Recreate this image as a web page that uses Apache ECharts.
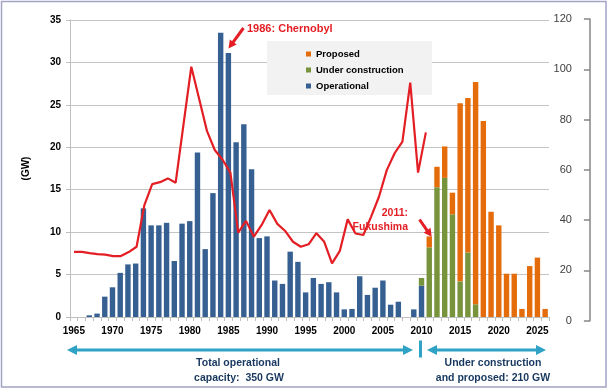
<!DOCTYPE html>
<html>
<head>
<meta charset="utf-8">
<script src="https://cdn.jsdelivr.net/npm/echarts@6/dist/echarts.min.js"></script>
<style>html,body{margin:0;padding:0;background:#fff;}#c{width:610px;height:390px;}</style>
</head>
<body>
<div id="c"></div>
<script>
const years = ['1965','1966','1967','1968','1969','1970','1971','1972','1973','1974',
  '1975','1976','1977','1978','1979','1980','1981','1982','1983','1984',
  '1985','1986','1987','1988','1989','1990','1991','1992','1993','1994',
  '1995','1996','1997','1998','1999','2000','2001','2002','2003','2004',
  '2005','2006','2007','2008','2009','2010','2011','2012','2013','2014',
  '2015','2016','2017','2018','2019','2020','2021','2022','2023','2024',
  '2025','2026'];

// GW per year (left axis)
const operational = [0,0,0.2,0.4,2.4,3.5,5.2,6.2,6.3,12.8,
  10.8,10.8,11.1,6.6,11.0,11.3,19.4,8.0,14.6,33.5,
  31.1,20.6,22.7,17.4,9.3,9.5,4.3,3.9,7.7,6.5,
  2.9,4.6,3.9,4.1,2.9,0.9,0.95,4.8,2.6,3.45,
  4.3,1.45,1.8,0,0.9,3.7,0,0,0,0,
  0,0,0,0,0,0,0,0,0,0,
  0,0];
const underConstruction = [0,0,0,0,0,0,0,0,0,0,
  0,0,0,0,0,0,0,0,0,0,
  0,0,0,0,0,0,0,0,0,0,
  0,0,0,0,0,0,0,0,0,0,
  0,0,0,0,0,0.9,8.2,15.3,16.4,12.1,
  4.2,7.6,1.5,0,0,0,0,0,0,0,
  0,0];
const proposed = [0,0,0,0,0,0,0,0,0,0,
  0,0,0,0,0,0,0,0,0,0,
  0,0,0,0,0,0,0,0,0,0,
  0,0,0,0,0,0,0,0,0,0,
  0,0,0,0,0,0,1.3,2.4,3.7,2.55,
  21.0,18.2,26.2,23.1,12.4,10.8,5.1,5.1,0.95,6.0,
  7.0,0.95];
// red line (right axis)
const rightAxisLine = [27.4,27.4,26.9,26.5,26.3,25.7,25.7,27.3,29.4,46.0,
  54.3,55.1,56.6,54.9,78.0,101.0,88.3,75.5,67.9,64.0,
  58.9,35.0,39.7,33.4,38.1,44.0,38.5,35.7,31.4,29.4,
  30.4,34.8,31.4,22.8,27.8,40.3,34.7,34.1,41.4,49.3,
  59.9,66.6,71.2,94.7,58.9,74.9,null,null,null,null,
  null,null,null,null,null,null,null,null,null,null,
  null,null];

const FONT = '"Liberation Sans", Arial, sans-serif';
const RED = '#E31E24';
const TEAL = '#2FA3C6';
const NAVY = '#17375E';

function arrowHead(tx, ty, dx, dy, len, half) {
  const l = Math.hypot(dx, dy); const ux = dx / l, uy = dy / l;
  const bx = tx - ux * len, by = ty - uy * len;
  return [[tx, ty], [bx + uy * half, by - ux * half], [bx - uy * half, by + ux * half]];
}

const chart = echarts.init(document.getElementById('c'), null, {renderer: 'canvas'});
chart.setOption({
  animation: false,
  backgroundColor: '#fff',
  textStyle: {fontFamily: FONT},
  grid: [
    {left: 70, right: 61, top: 20, bottom: 73},
    {left: 70.1, right: 55.1, top: 19, bottom: 69.3}
  ],
  legend: {
    orient: 'vertical', left: 301, top: 44, padding: 5, itemGap: 6,
    itemWidth: 5, itemHeight: 5, icon: 'rect',
    data: ['Proposed', 'Under construction', 'Operational'],
    textStyle: {fontFamily: FONT, fontWeight: 'bold', fontSize: 9.5, color: '#000'}
  },
  xAxis: [
    {type: 'category', gridIndex: 0, data: years, boundaryGap: true,
     axisLine: {lineStyle: {color: '#BFBFBF', width: 1}},
     axisTick: {show: true, interval: 0, length: 4, lineStyle: {color: '#BFBFBF'}},
     axisLabel: {interval: function (i) { return i % 5 === 0; }, margin: 9,
       fontFamily: FONT, fontWeight: 'bold', fontSize: 10, color: '#000'}},
    {type: 'category', gridIndex: 1, data: years, boundaryGap: true, show: false}
  ],
  yAxis: [
    {type: 'value', gridIndex: 0, min: 0, max: 35, interval: 5,
     name: '(GW)', nameLocation: 'middle', nameRotate: 90, nameGap: 39,
     nameTextStyle: {fontFamily: FONT, fontWeight: 'bold', fontSize: 10, color: '#000'},
     axisLine: {show: true, lineStyle: {color: '#BFBFBF'}},
     axisTick: {show: true, length: 4, lineStyle: {color: '#BFBFBF'}},
     axisLabel: {margin: 9, fontFamily: FONT, fontWeight: 'bold', fontSize: 10, color: '#000'},
     splitLine: {show: true, lineStyle: {color: '#C4C4C4', width: 1}}},
    {type: 'value', gridIndex: 1, position: 'right', offset: 35, min: 0, max: 120, interval: 20,
     axisLine: {show: true, lineStyle: {color: '#868686', width: 1.5}},
     axisTick: {show: true, inside: true, length: 6, lineStyle: {color: '#868686', width: 1.5}},
     axisLabel: {inside: true, margin: 18, fontFamily: FONT, fontSize: 11, color: '#404040'},
     splitLine: {show: false}}
  ],
  series: [
    {name: 'Operational', type: 'bar', stack: 'cap', xAxisIndex: 0, yAxisIndex: 0,
     barCategoryGap: '30%', data: operational, itemStyle: {color: '#376092'}},
    {name: 'Under construction', type: 'bar', stack: 'cap', xAxisIndex: 0, yAxisIndex: 0,
     barCategoryGap: '30%', data: underConstruction, itemStyle: {color: '#77933C'}},
    {name: 'Proposed', type: 'bar', stack: 'cap', xAxisIndex: 0, yAxisIndex: 0,
     barCategoryGap: '30%', data: proposed, itemStyle: {color: '#E46C0A'}},
    {name: 'line', type: 'line', xAxisIndex: 1, yAxisIndex: 1, data: rightAxisLine,
     showSymbol: false, symbol: 'none', connectNulls: false, z: 3,
     lineStyle: {color: RED, width: 2.2}}
  ],
  graphic: [
    {type: 'rect', z: 1, silent: true, shape: {x: 267, y: 41, width: 165, height: 54},
     style: {fill: '#F2F2F2'}},
    {type: 'rect', z: 0, silent: true, shape: {x: 1.5, y: 1.5, width: 604.5, height: 385.5},
     style: {fill: null, stroke: '#A3A3C6', lineWidth: 1.5}},
    // Chernobyl
    {type: 'text', z: 10, left: 247, top: 23,
     style: {text: '1986: Chernobyl', fill: RED, font: 'bold 11px ' + FONT}},
    {type: 'line', z: 10, shape: {x1: 243.5, y1: 28, x2: 232.6, y2: 42.9},
     style: {stroke: RED, lineWidth: 3}},
    {type: 'polygon', z: 10, shape: {points: arrowHead(228.5, 48.5, -15, 20.5, 8, 4.2)},
     style: {fill: RED}},
    // Fukushima
    {type: 'text', z: 10, x: 408, y: 213.5,
     style: {text: '2011:', fill: RED, font: 'bold 10.5px ' + FONT, align: 'right', verticalAlign: 'middle'}},
    {type: 'text', z: 10, x: 408, y: 227,
     style: {text: 'Fukushima', fill: RED, font: 'bold 10.5px ' + FONT, align: 'right', verticalAlign: 'middle'}},
    {type: 'line', z: 10, shape: {x1: 419.5, y1: 219.5, x2: 427.2, y2: 230.6},
     style: {stroke: RED, lineWidth: 3}},
    {type: 'polygon', z: 10, shape: {points: arrowHead(431.7, 236.8, 12.2, 17.3, 8, 4.2)},
     style: {fill: RED}},
    // bottom arrows
    {type: 'line', z: 10, shape: {x1: 76, y1: 350, x2: 404, y2: 350}, style: {stroke: TEAL, lineWidth: 3}},
    {type: 'polygon', z: 10, shape: {points: arrowHead(67, 350, -1, 0, 10, 5)}, style: {fill: TEAL}},
    {type: 'polygon', z: 10, shape: {points: arrowHead(413, 350, 1, 0, 10, 5)}, style: {fill: TEAL}},
    {type: 'rect', z: 10, shape: {x: 419, y: 340.5, width: 3, height: 17}, style: {fill: TEAL}},
    {type: 'line', z: 10, shape: {x1: 436, y1: 350, x2: 537, y2: 350}, style: {stroke: TEAL, lineWidth: 3}},
    {type: 'polygon', z: 10, shape: {points: arrowHead(427, 350, -1, 0, 10, 5)}, style: {fill: TEAL}},
    {type: 'polygon', z: 10, shape: {points: arrowHead(546, 350, 1, 0, 10, 5)}, style: {fill: TEAL}},
    {type: 'text', z: 10, x: 238, y: 363.5,
     style: {text: 'Total operational', fill: NAVY, font: 'bold 10.5px ' + FONT, align: 'center', verticalAlign: 'middle'}},
    {type: 'text', z: 10, x: 239, y: 378.5,
     style: {text: 'capacity:  350 GW', fill: NAVY, font: 'bold 10.5px ' + FONT, align: 'center', verticalAlign: 'middle'}},
    {type: 'text', z: 10, x: 493, y: 363.5,
     style: {text: 'Under construction', fill: NAVY, font: 'bold 10.5px ' + FONT, align: 'center', verticalAlign: 'middle'}},
    {type: 'text', z: 10, x: 493, y: 378.5,
     style: {text: 'and proposed: 210 GW', fill: NAVY, font: 'bold 10.5px ' + FONT, align: 'center', verticalAlign: 'middle'}}
  ]
});
</script>
</body>
</html>
